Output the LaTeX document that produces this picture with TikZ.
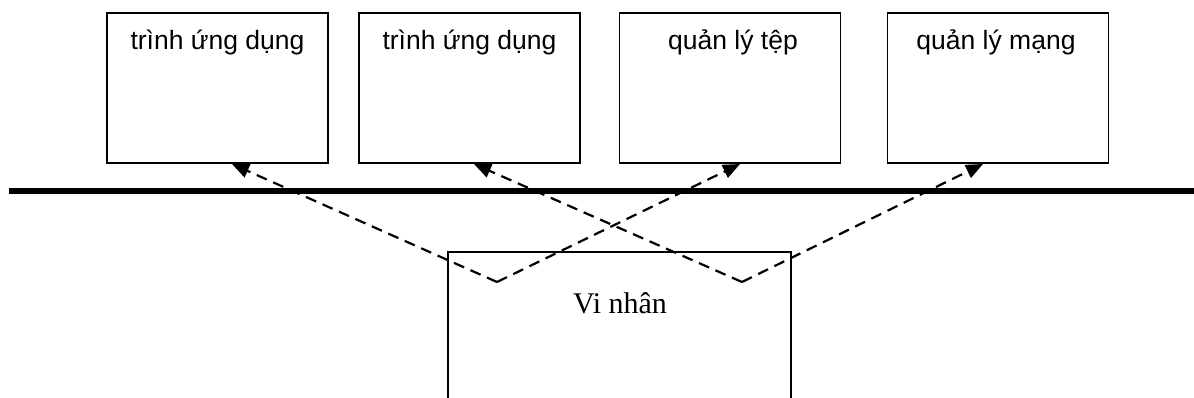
\documentclass[tikz,border=0pt]{standalone}
\usepackage{fontspec}
\setmainfont{Liberation Serif}
\newfontfamily\arialf{Liberation Sans}
\usetikzlibrary{arrows.meta}
\tikzset{
  box/.style={draw, line width=1.5pt, fill=white, minimum width=221pt, minimum height=150pt, inner sep=0pt},
  lbl/.style={font=\arialf\fontsize{26.5}{31}\selectfont, anchor=base, inner sep=0pt},
  kern/.style={draw, line width=1.5pt, minimum width=343pt, minimum height=178pt, inner sep=0pt},
  klbl/.style={font=\fontsize{30}{35}\selectfont, anchor=base, inner sep=0pt},
  bus/.style={line width=6pt},
  link/.style={line width=2.2pt, dash pattern=on 11pt off 7pt, -{Triangle[length=17pt,width=14pt]}}
}
\begin{document}
\begin{tikzpicture}[x=1pt,y=-1pt]
\clip (0,0) rectangle (1194,398);
\fill[white] (0,0) rectangle (1194,398);
% kernel
\node[kern] (k) at (619.5,341) {};
\node[klbl] (kt) at (620,313) {Vi nhân};
% bus
\coordinate (busL) at (9,191);
\coordinate (busR) at (1194,191);
\draw[bus] (busL) -- (busR);
% vertices and tips
\coordinate (v1) at (497,282);
\coordinate (v2) at (742,282);
\coordinate (a1) at (232,164);
\coordinate (a2) at (474,164);
\coordinate (a3) at (740,164);
\coordinate (a4) at (983,164);
\draw[link] (v1) -- (a1);
\draw[link] (v1) -- (a3);
\draw[link] (v2) -- (a2);
\draw[link] (v2) -- (a4);
% boxes
\node[box] (b1) at (217.5,88) {};
\node[box] (b2) at (469.5,88) {};
\node[box] (b3) at (730,88) {};
\node[box] (b4) at (998,88) {};
\node[lbl] (t1) at (217.5,50) {trình ứng dụng};
\node[lbl] (t2) at (469.5,50) {trình ứng dụng};
\node[lbl] (t3) at (733,50) {quản lý tệp};
\node[lbl] (t4) at (996,50) {quản lý mạng};
\end{tikzpicture}
\end{document}
